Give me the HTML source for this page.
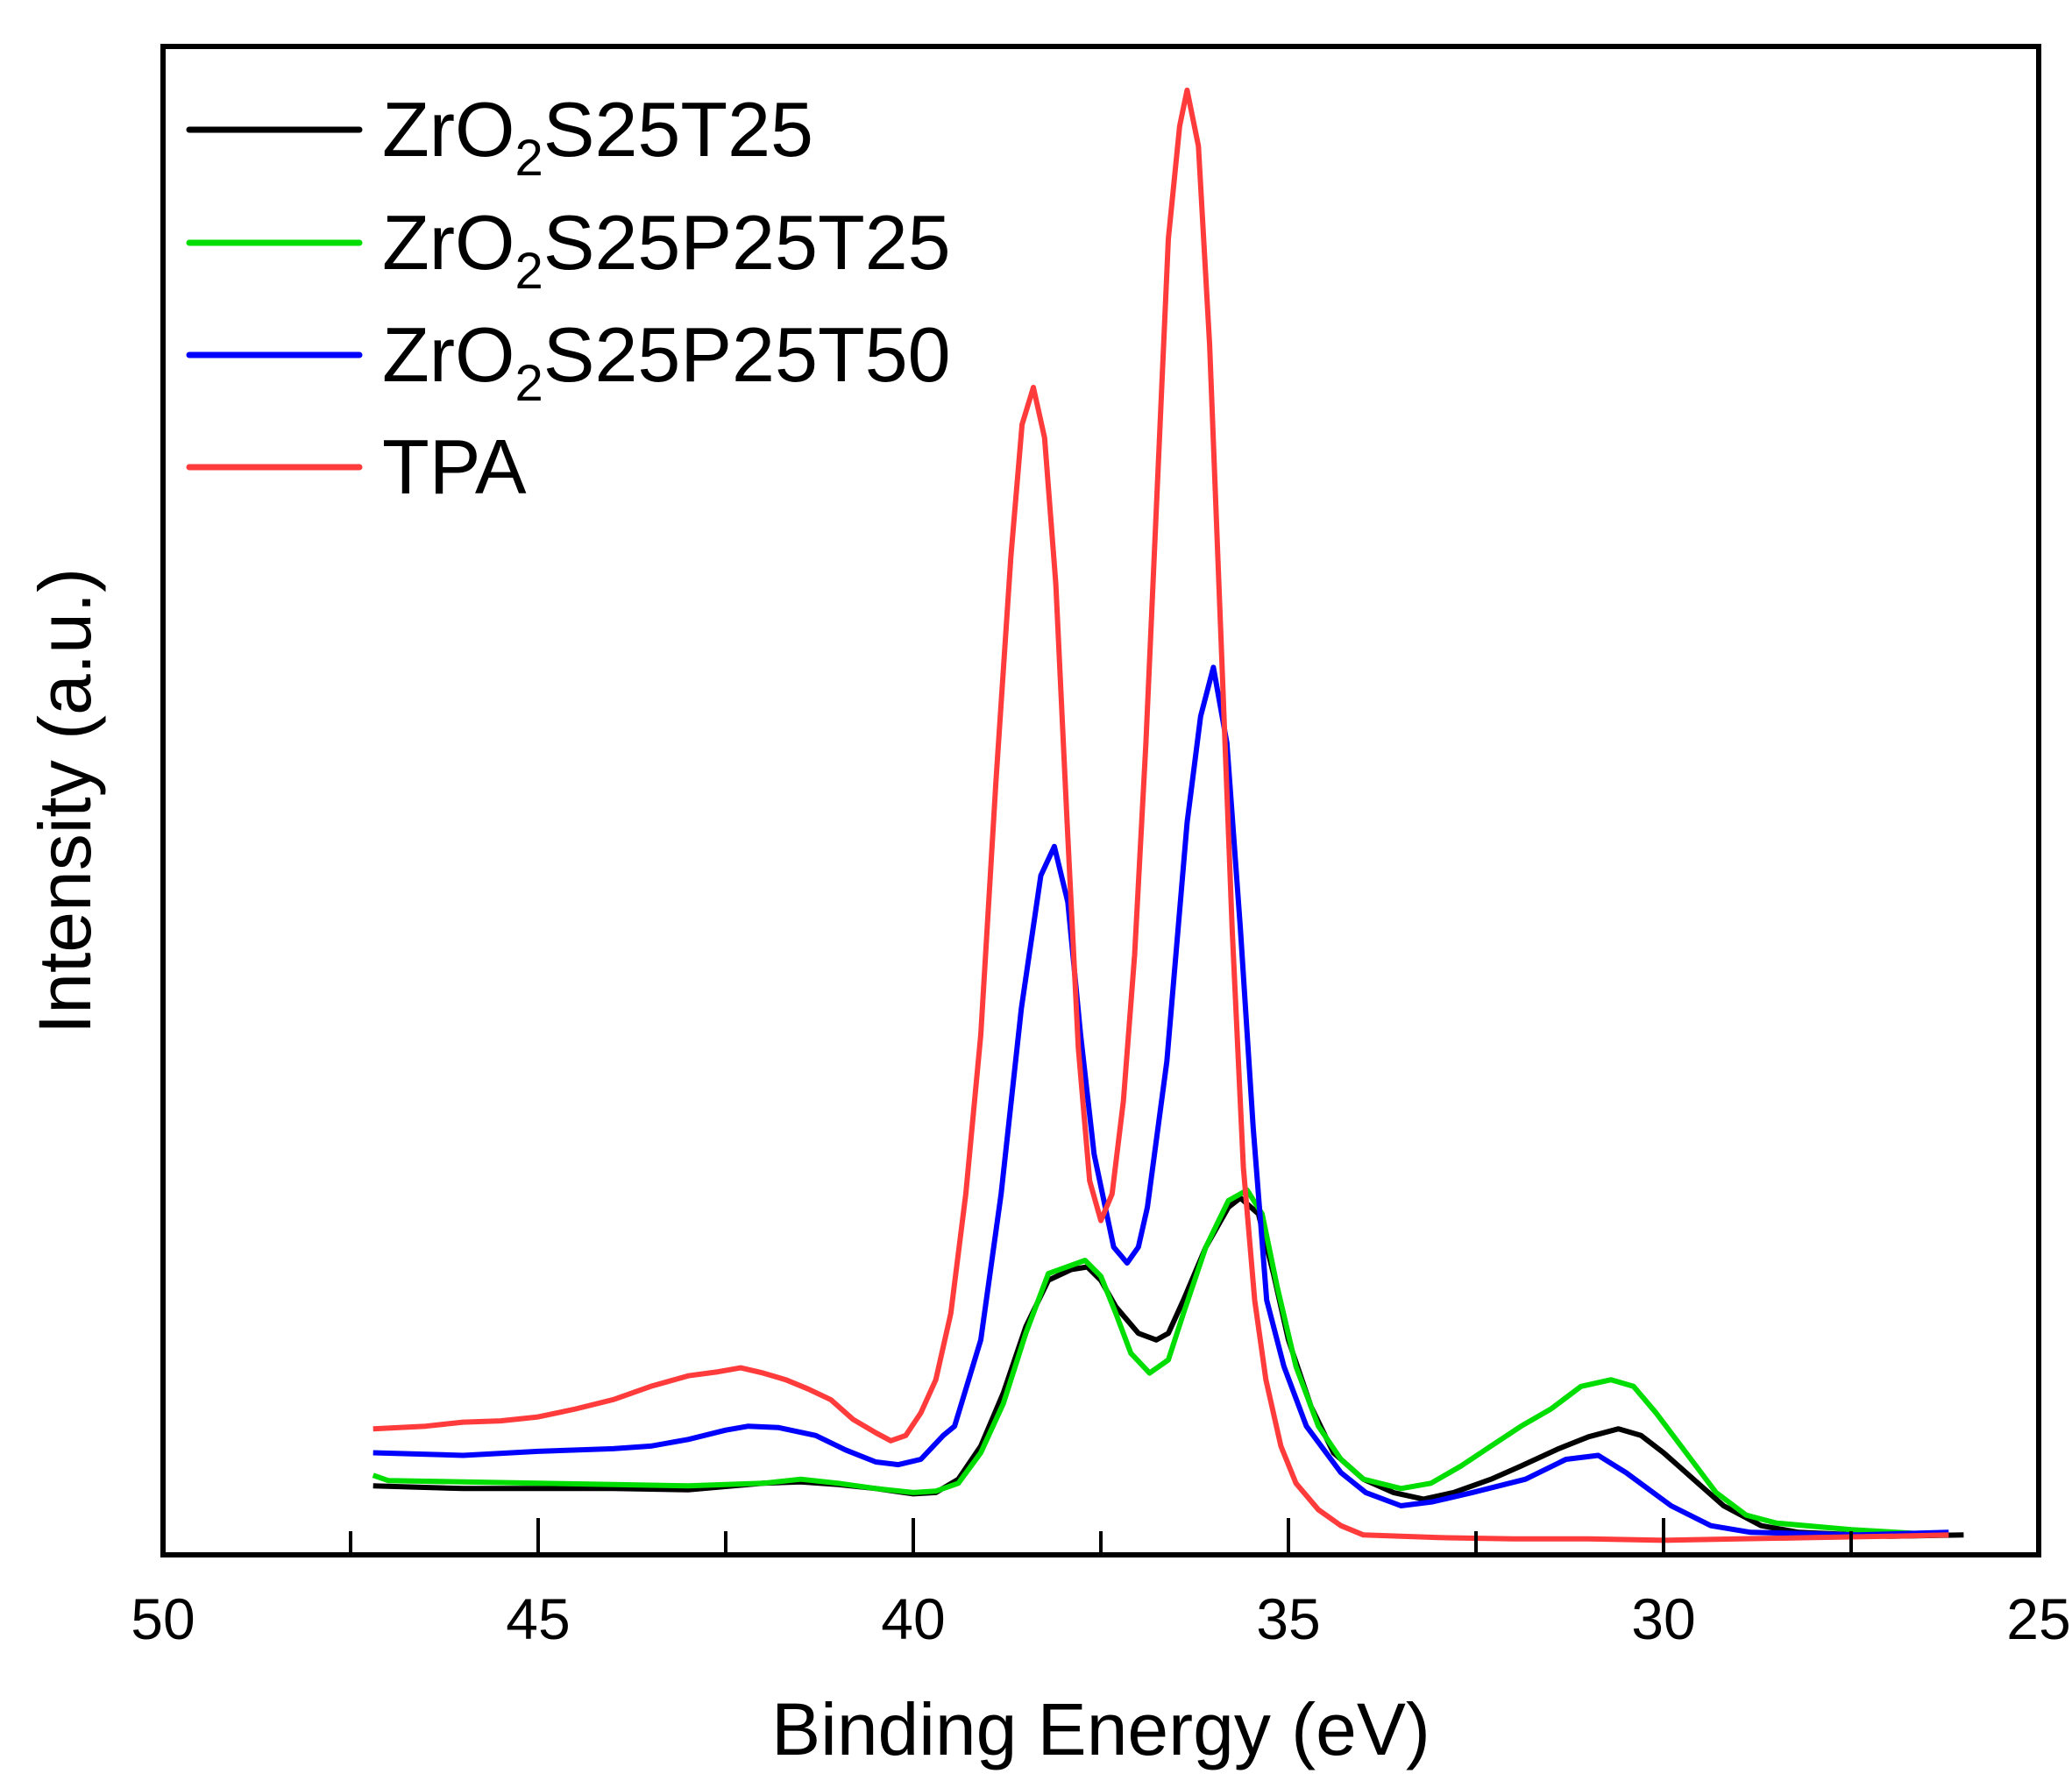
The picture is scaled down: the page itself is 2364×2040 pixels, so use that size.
<!DOCTYPE html>
<html><head><meta charset="utf-8"><style>
html,body{margin:0;padding:0;background:#fff;}
svg{display:block;font-family:"Liberation Sans",Arial,sans-serif;}
</style></head><body>
<svg id="chart" width="2364" height="2040" viewBox="0 0 2364 2040" xmlns="http://www.w3.org/2000/svg">
<g id="series"></g>
<g id="axes"></g>
<rect x="186" y="53" width="2140" height="1721" fill="none" stroke="#000" stroke-width="6"/>
<text x="1256" y="2002" font-size="84" text-anchor="middle">Binding Energy (eV)</text>
<text transform="translate(103,914) rotate(-90)" font-size="84" text-anchor="middle">Intensity (a.u.)</text>
<g id="legend"></g>
</svg>
<script>
const xTicks = [50,45,40,35,30,25];
const xMinorTicks = [47.5,42.5,37.5,32.5,27.5];
const seriesNames = ["ZrO2S25T25","ZrO2S25P25T25","ZrO2S25P25T50","TPA"];
const seriesColors = ["#000000","#00dd00","#0000ff","#ff3b3b"];

const tpaE = [47.2,46.5,46,45.5,45,44.5,44,43.5,43,42.6,42.3,42,41.7,41.4,41.1,40.8,40.5,40.3,40.1,39.9,39.7,39.5,39.3,39.1,38.9,38.7,38.55,38.4,38.25,38.1,37.95,37.8,37.65,37.5,37.35,37.2,37.05,36.9,36.75,36.6,36.45,36.35,36.2,36.05,35.9,35.75,35.6,35.45,35.3,35.1,34.9,34.6,34.3,34,33.5,33,32,31,30,29,28,27,26.2];
const tpaI = [95,97,100,101,104,110,117,127,135,138,141,137,132,125,117,102,92,86,90,107,132,182,272,392,582,752,852,880,842,732,552,382,282,252,272,342,452,612,802,992,1077,1104,1062,912,692,472,292,192,132,82,54,34,22,15,14,13,12,12,11,12,13,14,15];

const t50E = [47.2,46,45,44,43.5,43,42.5,42.2,41.8,41.3,40.9,40.5,40.2,39.9,39.6,39.45,39.1,38.83,38.56,38.3,38.12,37.94,37.77,37.59,37.33,37.15,37.0,36.88,36.62,36.35,36.17,36.0,35.82,35.64,35.47,35.29,35.06,34.76,34.3,33.97,33.5,33.08,32.55,31.84,31.3,30.87,30.5,29.9,29.37,28.84,27.4,26.2];
const t50I = [77,75,78,80,82,87,94,97,96,90,79,70,68,72,90,97,162,272,412,512,534,492,392,302,232,220,232,262,372,552,632,669,612,472,322,192,142,97,62,47,37,40,47,57,72,75,62,37,22,17,15,17];

const blackE = [47.2,46,45,44,43,42,41.5,41,40.5,40,39.7,39.4,39.1,38.8,38.5,38.2,37.9,37.68,37.5,37.3,37.0,36.76,36.6,36.4,36.1,35.8,35.64,35.4,35.2,35.0,34.7,34.4,34.0,33.6,33.2,32.8,32.3,31.9,31.4,31,30.6,30.3,30,29.6,29.2,28.7,28.2,27,26];
const blackI = [52,50,50,50,49,54,55,53,50,46,47,57,82,122,172,207,215,217,207,187,167,162,167,192,232,262,269,257,212,162,112,77,57,47,42,47,57,67,80,89,95,90,77,57,37,22,17,14,15];

const greenE = [47.2,47,46,44,43,42,41.5,41,40.5,40,39.7,39.4,39.1,38.8,38.5,38.2,37.71,37.5,37.3,37.1,36.85,36.6,36.4,36.1,35.8,35.55,35.35,35.15,34.9,34.6,34.3,34,33.5,33.1,32.7,32.3,31.9,31.5,31.1,30.7,30.4,30.1,29.7,29.3,28.9,28.5,27.5,26.3];
const greenI = [60,56,55,53,52,54,57,54,50,47,48,54,77,114,167,212,222,210,182,152,137,147,182,232,267,275,257,202,142,97,72,57,50,54,67,82,97,110,127,132,127,107,77,47,30,24,19,15];

const X0=186, X1=2326, Y0=1774, Y1=53;
const xDomain=[50,25], yDomain=[0,1137];
function xScale(e){return X0+(e-xDomain[0])/(xDomain[1]-xDomain[0])*(X1-X0);}
function yScale(v){return Y0-(v-yDomain[0])/(yDomain[1]-yDomain[0])*(Y0-Y1);}
const NS="http://www.w3.org/2000/svg";
const sg=document.getElementById('series');
const ag=document.getElementById('axes');
const lg=document.getElementById('legend');

const allE=[blackE,greenE,t50E,tpaE], allI=[blackI,greenI,t50I,tpaI];
const seriesKeys=["series-zro2s25t25","series-zro2s25p25t25","series-zro2s25p25t50","series-tpa"];
for(let s=0;s<4;s++){
  const p=document.createElementNS(NS,'polyline');
  
  
  p.setAttribute('points', allE[s].map((e,i)=>xScale(e).toFixed(1)+','+yScale(allI[s][i]).toFixed(1)).join(' '));
  p.setAttribute('fill','none');p.setAttribute('stroke',seriesColors[s]);
  p.setAttribute('stroke-width','6');p.setAttribute('stroke-linejoin','round');
  sg.appendChild(p);
}
xTicks.forEach(t=>{
  const x=xScale(t);
  const l=document.createElementNS(NS,'line');
  
  
  l.setAttribute('x1',x);l.setAttribute('x2',x);l.setAttribute('y1',Y0);l.setAttribute('y2',Y0-42);
  l.setAttribute('stroke','#000');l.setAttribute('stroke-width','4');ag.appendChild(l);
  const tx=document.createElementNS(NS,'text');
  
  
  tx.setAttribute('x',x);tx.setAttribute('y',1870);tx.setAttribute('font-size','66');tx.setAttribute('text-anchor','middle');
  tx.textContent=t;ag.appendChild(tx);
});
xMinorTicks.forEach(t=>{
  const x=xScale(t);
  const l=document.createElementNS(NS,'line');
  
  
  l.setAttribute('x1',x);l.setAttribute('x2',x);l.setAttribute('y1',Y0);l.setAttribute('y2',Y0-27);
  l.setAttribute('stroke','#000');l.setAttribute('stroke-width','4');ag.appendChild(l);
});
const legY=[148,277,405,533];
const legParts=[["ZrO","2","S25T25"],["ZrO","2","S25P25T25"],["ZrO","2","S25P25T50"],["TPA","",""]];
const legKeys=["legend-entry-zro2s25t25","legend-entry-zro2s25p25t25","legend-entry-zro2s25p25t50","legend-entry-tpa"];
for(let s=0;s<4;s++){
  const g=document.createElementNS(NS,'g');
  
  
  const l=document.createElementNS(NS,'line');
  
  
  l.setAttribute('x1',216);l.setAttribute('x2',410);l.setAttribute('y1',legY[s]);l.setAttribute('y2',legY[s]);
  l.setAttribute('stroke',seriesColors[s]);l.setAttribute('stroke-width','7');l.setAttribute('stroke-linecap','round');
  g.appendChild(l);
  const t=document.createElementNS(NS,'text');
  
  
  t.setAttribute('x',436);t.setAttribute('y',legY[s]+30);t.setAttribute('font-size','88');
  const a=legParts[s];
  const t1=document.createElementNS(NS,'tspan');t1.textContent=a[0];t.appendChild(t1);
  if(a[1]){
    const t2=document.createElementNS(NS,'tspan');t2.setAttribute('font-size','58');t2.setAttribute('dy','22');t2.textContent=a[1];t.appendChild(t2);
    const t3=document.createElementNS(NS,'tspan');t3.setAttribute('dy','-22');t3.textContent=a[2];t.appendChild(t3);
  }
  g.appendChild(t);
  lg.appendChild(g);
}
</script>
</body></html>
